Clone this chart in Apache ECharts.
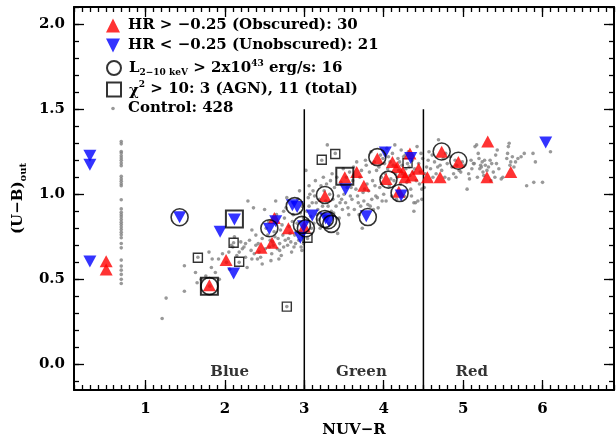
<!DOCTYPE html>
<html><head><meta charset="utf-8">
<script src="https://cdn.jsdelivr.net/npm/echarts@6/dist/echarts.min.js"></script>
<style>html,body{margin:0;padding:0;background:#fff}#c{width:616px;height:438px}</style>
</head><body><div id="c"></div>
<script>
// ---- data (NUV-R, (U-B)out) ----
const obscured = [[0.505,0.607],[0.505,0.558],[1.805,0.465],[2.015,0.613],[2.455,0.685],[2.594,0.715],[2.623,0.861],[2.80,0.80],[3.00,0.81],[3.26,0.99],[3.51,1.10],[3.66,1.13],[3.75,1.05],[3.92,1.21],[4.11,1.19],[4.03,1.09],[4.24,1.13],[4.27,1.10],[4.33,1.24],[4.44,1.15],[4.36,1.11],[4.55,1.10],[4.19,1.015],[4.17,1.16],[4.71,1.10],[4.73,1.25],[4.94,1.19],[5.31,1.31],[5.30,1.10],[5.60,1.13]];
const unobscured = [[0.30,1.226],[0.30,1.173],[0.30,0.605],[1.43,0.865],[2.12,0.851],[1.94,0.779],[2.11,0.535],[2.56,0.797],[2.64,0.841],[2.85,0.935],[2.91,0.925],[2.95,0.744],[2.99,0.812],[3.10,0.875],[3.27,0.858],[3.31,0.841],[3.52,1.03],[3.78,0.87],[4.02,1.245],[4.34,1.213],[4.22,0.992],[6.04,1.304]];
const luminous = [[1.43,0.865],[1.805,0.46],[2.56,0.80],[2.88,0.93],[2.97,0.82],[3.02,0.80],[3.26,0.996],[3.26,0.855],[3.30,0.847],[3.34,0.826],[3.80,0.866],[3.92,1.218],[4.06,1.086],[4.20,1.007],[4.73,1.251],[4.94,1.197]];
const chi2AGN = [[1.805,0.46],[2.12,0.855],[3.51,1.105]];
const chi2Other = [[1.66,0.627],[2.11,0.715],[2.18,0.603],[2.78,0.340],[3.22,1.203],[3.39,1.236],[3.04,0.744],[4.30,1.183]];
const controlColumn = [[0.695,1.310],[0.695,1.296],[0.695,1.251],[0.695,1.242],[0.695,1.226],[0.695,1.213],[0.695,1.199],[0.695,1.183],[0.695,1.168],[0.695,1.105],[0.695,1.090],[0.695,1.076],[0.695,1.062],[0.695,1.050],[0.695,0.968],[0.695,0.914],[0.695,0.894],[0.695,0.880],[0.695,0.867],[0.695,0.851],[0.695,0.836],[0.695,0.822],[0.695,0.808],[0.695,0.793],[0.695,0.777],[0.695,0.762],[0.695,0.744],[0.695,0.711],[0.695,0.685],[0.695,0.613],[0.695,0.578],[0.695,0.554],[0.695,0.529],[0.695,0.500],[0.695,0.476]];
const control = [
[1.21,0.27],[1.26,0.39],[1.49,0.43],[1.49,0.58],[1.63,0.54],[1.65,0.48],[1.66,0.63],[1.80,0.66],[1.84,0.62],[1.83,0.57],[1.88,0.54],[1.92,0.62],[1.93,0.50],[1.81,0.46],[1.97,0.65],[1.70,0.50],[1.76,0.52],
[2.05,0.66],[2.08,0.70],[2.10,0.69],[2.11,0.715],[2.18,0.60],[2.18,0.66],[2.20,0.72],[2.22,0.68],[2.24,0.69],[2.26,0.71],[2.29,0.96],[2.31,0.73],[2.33,0.67],[2.34,0.79],[2.34,0.62],[2.36,0.92],[2.39,0.76],[2.39,0.70],[2.41,0.62],[2.43,0.66],[2.45,0.63],[2.47,0.59],[2.47,0.74],[2.50,0.91],[2.28,0.57],[2.15,0.64],[2.02,0.60],[2.06,0.56],[2.12,0.75],[2.26,0.63],[2.37,0.65],[2.42,0.71],
[2.52,0.80],[2.54,0.76],[2.56,0.69],[2.59,0.65],[2.60,0.72],[2.62,0.78],[2.63,0.75],[2.64,0.96],[2.66,0.68],[2.69,0.71],[2.69,0.67],[2.71,0.64],[2.72,0.82],[2.73,0.76],[2.75,0.86],[2.77,0.92],[2.78,0.98],[2.78,0.34],[2.79,0.70],[2.80,0.74],[2.82,0.77],[2.84,0.66],[2.85,0.84],[2.86,0.88],[2.87,0.69],[2.89,0.71],[2.90,0.78],[2.92,0.97],[2.93,0.73],[2.94,1.02],[2.95,0.89],[2.96,0.69],[2.97,0.67],[2.98,0.75],[2.99,0.71],[2.99,0.86],[2.55,0.84],[2.58,0.61],[2.61,0.70],[2.67,0.74],[2.70,0.79],[2.74,0.69],[2.76,0.73],[2.81,0.81],[2.83,0.72],[2.88,0.76],[2.91,0.83],[2.95,0.78],[2.65,0.88],[2.68,0.62],[2.57,0.73],[2.51,0.68],[2.74,0.90],[2.86,0.95],[2.97,0.93],
[3.02,1.14],[3.03,0.90],[3.04,0.74],[3.05,0.98],[3.06,0.93],[3.07,1.00],[3.08,0.87],[3.10,0.95],[3.11,1.02],[3.13,0.99],[3.15,0.95],[3.16,0.88],[3.17,0.91],[3.19,0.97],[3.21,1.05],[3.22,1.20],[3.23,0.93],[3.25,1.02],[3.27,0.96],[3.29,1.29],[3.30,0.93],[3.32,1.00],[3.34,0.90],[3.36,0.97],[3.38,1.04],[3.39,1.24],[3.40,0.93],[3.42,0.77],[3.43,0.99],[3.45,0.95],[3.46,1.07],[3.48,0.91],[3.50,1.00],[3.04,0.84],[3.09,0.80],[3.12,0.83],[3.14,1.08],[3.18,0.85],[3.20,0.89],[3.24,1.10],[3.26,0.88],[3.28,1.06],[3.31,0.83],[3.33,1.08],[3.35,1.12],[3.37,0.89],[3.41,1.10],[3.44,0.86],[3.47,0.97],[3.49,1.15],[3.06,1.05],[3.20,0.80],
[3.52,0.95],[3.54,1.04],[3.55,0.92],[3.57,1.13],[3.59,1.04],[3.60,0.97],[3.62,1.16],[3.63,0.91],[3.65,1.03],[3.67,0.99],[3.68,0.95],[3.70,1.10],[3.71,0.93],[3.73,0.80],[3.74,1.01],[3.75,0.96],[3.77,1.20],[3.78,1.17],[3.79,1.06],[3.80,0.94],[3.82,1.13],[3.83,0.93],[3.85,0.97],[3.86,1.08],[3.87,0.91],[3.88,1.19],[3.90,0.99],[3.91,1.14],[3.93,0.92],[3.94,1.16],[3.95,1.04],[3.97,1.10],[3.98,0.96],[3.99,1.21],[3.56,0.88],[3.61,1.08],[3.66,1.19],[3.69,0.88],[3.72,1.14],[3.76,1.03],[3.81,1.02],[3.84,1.25],[3.89,1.05],[3.92,0.98],[3.96,1.23],[3.53,1.10],[3.58,0.99],
[4.00,1.00],[4.02,1.12],[4.03,0.96],[4.05,1.15],[4.07,1.05],[4.08,1.19],[4.10,0.99],[4.11,1.24],[4.13,1.08],[4.14,1.29],[4.15,1.12],[4.16,0.97],[4.18,1.21],[4.19,1.14],[4.21,1.06],[4.22,1.26],[4.23,1.17],[4.25,1.22],[4.26,0.99],[4.28,1.15],[4.29,1.07],[4.30,1.18],[4.31,1.25],[4.33,1.11],[4.34,1.03],[4.35,0.99],[4.36,1.20],[4.38,0.95],[4.38,0.90],[4.39,1.15],[4.40,0.95],[4.41,1.08],[4.42,1.28],[4.43,0.96],[4.44,1.18],[4.46,1.13],[4.47,1.24],[4.48,0.97],[4.48,1.03],[4.49,1.21],[4.04,1.27],[4.09,1.09],[4.12,1.17],[4.17,1.10],[4.20,1.19],[4.24,1.12],[4.27,1.23],[4.32,1.16],[4.37,1.13],[4.45,1.06],[4.06,1.22],[4.01,1.18],
[4.52,1.12],[4.54,1.16],[4.57,1.25],[4.59,1.15],[4.62,1.10],[4.64,1.19],[4.66,1.12],[4.69,1.32],[4.71,1.17],[4.73,1.14],[4.75,1.21],[4.77,1.10],[4.80,1.18],[4.82,1.09],[4.84,1.22],[4.86,1.16],[4.88,1.12],[4.90,1.20],[4.92,1.17],[4.95,1.14],[4.97,1.13],[4.99,1.19],[4.56,1.20],[4.61,1.23],[4.68,1.16],[4.78,1.24],[4.91,1.10],[4.51,1.04],
[5.02,1.17],[5.05,1.03],[5.07,1.12],[5.08,1.09],[5.10,1.20],[5.11,1.15],[5.13,1.18],[5.14,1.18],[5.15,1.28],[5.17,1.29],[5.18,1.10],[5.20,1.21],[5.21,1.15],[5.22,1.17],[5.23,1.16],[5.24,1.19],[5.25,1.13],[5.27,1.20],[5.28,1.17],[5.30,1.14],[5.32,1.16],[5.34,1.20],[5.36,1.18],[5.38,1.13],[5.40,1.10],[5.41,1.23],[5.42,1.18],[5.43,1.26],[5.45,1.15],[5.48,1.09],[5.50,1.10],[5.19,1.24],[5.26,1.11],[5.35,1.08],
[5.55,1.21],[5.56,1.24],[5.57,1.28],[5.58,1.30],[5.59,1.17],[5.60,1.19],[5.62,1.22],[5.66,1.19],[5.69,1.21],[5.77,1.24],[5.80,1.05],[5.88,1.24],[5.89,1.07],[5.91,1.19],[6.00,1.07],[6.10,1.25],[5.64,1.16],[5.73,1.22]
];
const xMajorTicks = [1,2,3,4,5,6];
const yMajorTicks = [0,0.5,1.0,1.5,2.0];
const xRange = [0.1, 6.9];
const yRange = [-0.15, 2.1];
const dividers = [3.0, 4.5];
const dividerTop = 1.5;
const regionNames = ['Blue','Green','Red'];
const regionX = [2.06, 3.72, 5.11];
const regionY = -0.045;

// minor tick positions (every 0.1)
const xMinorTicks = []; for (let i = 1; i <= 69; i++) xMinorTicks.push(+(i/10).toFixed(1));
const yMinorTicks = []; for (let i = -1; i <= 21; i++) yMinorTicks.push(+(i/10).toFixed(1));

const FONT = 'DejaVu Serif';
const chart = echarts.init(document.getElementById('c'), null, {renderer:'canvas'});

function xAxisDef(pos, ticks, len, showLine, showLabel, extra) {
  return Object.assign({
    type:'value', position:pos, min:xRange[0], max:xRange[1],
    splitLine:{show:false},
    axisLine:{show:showLine, onZero:false, lineStyle:{color:'#000', width:2}},
    axisTick:{show:true, inside:true, length:len, customValues:ticks, lineStyle:{color:'#000', width:1.3}},
    axisLabel:{show:showLabel, customValues:ticks, margin:12, color:'#000', fontFamily:FONT, fontWeight:'bold', fontSize:15}
  }, extra||{});
}
function yAxisDef(pos, ticks, len, showLine, showLabel, extra) {
  return Object.assign({
    type:'value', position:pos, min:yRange[0], max:yRange[1],
    splitLine:{show:false},
    axisLine:{show:showLine, onZero:false, lineStyle:{color:'#000', width:2}},
    axisTick:{show:true, inside:true, length:len, customValues:ticks, lineStyle:{color:'#000', width:1.3}},
    axisLabel:{show:showLabel, customValues:ticks, margin:9, color:'#000', fontFamily:FONT, fontWeight:'bold', fontSize:15,
      formatter:v=>v.toFixed(1)}
  }, extra||{});
}

const dotIcon = 'image://data:image/svg+xml;charset=utf-8,' + encodeURIComponent('<svg xmlns="http://www.w3.org/2000/svg" width="14" height="14"><circle cx="7" cy="7" r="1.8" fill="#808080"/></svg>');

const legendNames = ['obs','unobs','lum','chi','ctrl'];
const legendText = {
  obs:'{n|HR > −0.25 (Obscured): 30}',
  unobs:'{n|HR < −0.25 (Unobscured): 21}',
  lum:'{n|L}{sub|2−10 keV}{n| > 2x10}{sup|43}{n| erg/s: 16}',
  chi:'{chi|χ}{sup|2}{n| > 10: 3 (AGN), 11 (total)}',
  ctrl:'{n|Control: 428}'
};
const legendIcons = {
  obs:{icon:'triangle', itemStyle:{color:'#ff0000'}},
  unobs:{icon:'path://M0,0L10,0L5,10Z', itemStyle:{color:'#0000ff'}},
  lum:{icon:'circle', itemStyle:{color:'rgba(0,0,0,0)', borderColor:'#000', borderWidth:2}},
  chi:{icon:'rect', itemStyle:{color:'rgba(0,0,0,0)', borderColor:'#000', borderWidth:2}},
  ctrl:{icon:dotIcon, itemStyle:{}}
};
const legendTops = [18, 38, 59, 80, 101];
const richText = {
  n:{fontFamily:FONT, fontWeight:'bold', fontSize:15, color:'#000', lineHeight:17},
  chi:{fontFamily:FONT, fontWeight:'bold', fontSize:15, color:'#000', lineHeight:17, padding:[4,0,0,0]},
  sub:{fontFamily:FONT, fontWeight:'bold', fontSize:9, color:'#000', padding:[9,0,0,0], verticalAlign:'bottom'},
  sup:{fontFamily:FONT, fontWeight:'bold', fontSize:9, color:'#000', padding:[0,0,9,0], verticalAlign:'top'}
};
const legends = legendNames.map((nm, i) => ({
  show:true, orient:'vertical', left:106, top:legendTops[i], selectedMode:false,
  itemWidth:14, itemHeight:14, itemGap:0, padding:0,
  data:[Object.assign({name:nm}, legendIcons[nm])],
  formatter: n => legendText[n],
  textStyle:{rich:richText, padding:[0,0,0,3]}
}));

const series = [
  {name:'ctrl', type:'scatter', xAxisIndex:0, yAxisIndex:0, symbol:'circle', symbolSize:3.6,
   itemStyle:{color:'#808080'}, data:controlColumn.concat(control), z:2, silent:true},
  {name:'chiSmall', type:'scatter', symbol:'rect', symbolSize:9,
   itemStyle:{color:'rgba(0,0,0,0)', borderColor:'#000', borderWidth:1.4}, data:chi2Other, z:3},
  {name:'obs', type:'scatter', symbol:'triangle', symbolSize:[13,12],
   itemStyle:{color:'#ff0000'}, data:obscured, z:4},
  {name:'unobs', type:'scatter', symbol:'triangle', symbolRotate:180, symbolSize:[13,12],
   itemStyle:{color:'#0000ff'}, data:unobscured, z:4},
  {name:'lum', type:'scatter', symbol:'circle', symbolSize:17,
   itemStyle:{color:'rgba(0,0,0,0)', borderColor:'#000', borderWidth:1.6}, data:luminous, z:5},
  {name:'chi', type:'scatter', symbol:'rect', symbolSize:17,
   itemStyle:{color:'rgba(0,0,0,0)', borderColor:'#000', borderWidth:2}, data:chi2AGN, z:5},
  ...dividers.map(d => ({type:'line', symbol:'none', data:[[d, yRange[0]],[d, dividerTop]],
     lineStyle:{color:'#000', width:1.5}, z:3, silent:true})),
  {type:'scatter', symbolSize:1, itemStyle:{color:'rgba(0,0,0,0)'},
   data:regionNames.map((n,i)=>({name:n, value:[regionX[i], regionY]})),
   label:{show:true, position:'inside', formatter:p=>p.name, color:'#000', fontFamily:FONT, fontWeight:'bold', fontSize:15}, z:6, silent:true}
];

chart.setOption({
  animation:false,
  backgroundColor:'#fff',
  grid:{left:74, right:2, top:7, bottom:48, containLabel:false, outerBoundsMode:'none'},
  legend:legends,
  xAxis:[
    xAxisDef('bottom', xMajorTicks, 10, true, true, {name:'NUV−R', nameLocation:'middle', nameGap:33,
      nameTextStyle:{color:'#000', fontFamily:FONT, fontWeight:'bold', fontSize:15, padding:[0,0,0,20]}}),
    xAxisDef('bottom', xMinorTicks, 5, false, false),
    xAxisDef('top', xMajorTicks, 10, true, false),
    xAxisDef('top', xMinorTicks, 5, false, false)
  ],
  yAxis:[
    yAxisDef('left', yMajorTicks, 10, true, true, {name:'{n|(U−B)}{s|out}', nameLocation:'middle', nameGap:42,
      nameTextStyle:{color:'#000', rich:{
        n:{fontFamily:FONT, fontWeight:'bold', fontSize:15, color:'#000', lineHeight:18},
        s:{fontFamily:FONT, fontWeight:'bold', fontSize:10, color:'#000', padding:[9,0,0,0], verticalAlign:'bottom'}}}}),
    yAxisDef('left', yMinorTicks, 5, false, false),
    yAxisDef('right', yMajorTicks, 10, true, false),
    yAxisDef('right', yMinorTicks, 5, false, false)
  ],
  series:series
});
</script></body></html>
